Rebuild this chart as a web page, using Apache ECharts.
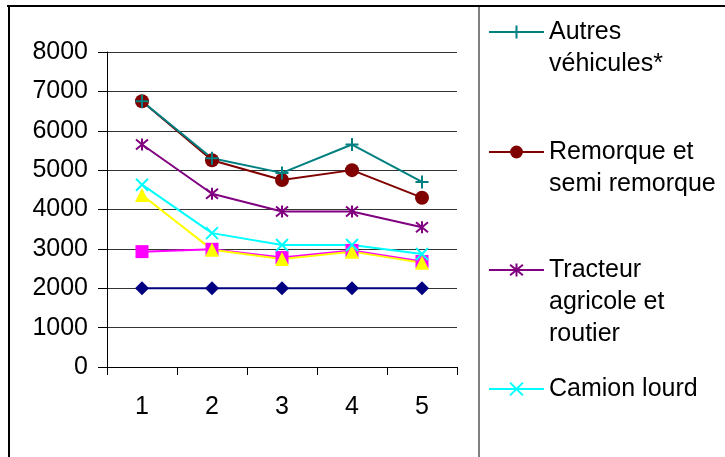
<!DOCTYPE html>
<html>
<head>
<meta charset="utf-8">
<script src="https://cdn.jsdelivr.net/npm/echarts@6/dist/echarts.min.js"></script>
<style>html,body{margin:0;padding:0;background:#fff;}#c{width:725px;height:457px;}</style>
</head>
<body>
<div id="c"></div>
<script>
const categories = ['1', '2', '3', '4', '5'];
const yTicks = [0, 1000, 2000, 3000, 4000, 5000, 6000, 7000, 8000];
const autresVehicules = [6750, 5300, 4930, 5650, 4700];
const remorque = [6750, 5250, 4750, 5000, 4300];
const tracteur = [5650, 4400, 3950, 3950, 3550];
const camionLourd = [4630, 3400, 3100, 3100, 2870];
const serieTriangle = [4370, 2980, 2740, 2930, 2650];
const serieCarre = [2930, 2990, 2780, 2960, 2680];
const serieLosange = [2000, 2000, 2000, 2000, 2000];

const FONT = 'Liberation Sans, Arial, sans-serif';
const PLUS = 'path://M6,0L6,12M0,6L12,6';
const STAR = 'path://M6,0L6,12M1,1L11,11M1,11L11,1';
const CROSS = 'path://M0,0L12,12M0,12L12,0';

function mk(name, data, color, symbol, size, stroke) {
  return {
    name: name, type: 'line', data: data, symbol: symbol, symbolSize: size,
    lineStyle: { color: color, width: 2 },
    itemStyle: { color: color, borderColor: color, borderWidth: stroke ? 2 : 0 },
    emphasis: { disabled: true }, animation: false
  };
}

const series = [
  mk('Série 1', serieLosange, '#000080', 'diamond', 14, false),
  mk('Série 2', serieCarre, '#FF00FF', 'rect', 13, false),
  mk('Série 3', serieTriangle, '#FFFF00', 'triangle', 14, false),
  mk('Camion lourd', camionLourd, '#00FFFF', CROSS, 12, true),
  mk('Tracteur agricole et routier', tracteur, '#800080', STAR, 12, true),
  mk('Remorque et semi remorque', remorque, '#800000', 'circle', 14, false),
  mk('Autres véhicules*', autresVehicules, '#008080', PLUS, 13, true)
];

const legendLabels = {
  'Autres véhicules*': ['Autres', 'véhicules*'],
  'Remorque et semi remorque': ['Remorque et', 'semi remorque'],
  'Tracteur agricole et routier': ['Tracteur', 'agricole et', 'routier'],
  'Camion lourd': ['Camion lourd']
};
const legendSymbolY = {
  'Autres véhicules*': 32,
  'Remorque et semi remorque': 152,
  'Tracteur agricole et routier': 270,
  'Camion lourd': 389
};
const LH = 32;
const legends = Object.keys(legendLabels).map(function (name) {
  const lines = legendLabels[name];
  const blanks = lines.length - 1;
  const n = lines.length + blanks;
  return {
    data: [name], left: 488, top: legendSymbolY[name] - n * LH / 2,
    orient: 'vertical', padding: 0, itemWidth: 55, itemHeight: 16, itemGap: 0,
    selectedMode: false,
    textStyle: { fontFamily: FONT, fontSize: 25, lineHeight: LH, color: '#000' },
    formatter: function () { return new Array(blanks + 1).join('\n') + lines.join('\n'); }
  };
});

const chart = echarts.init(document.getElementById('c'), null, { renderer: 'canvas' });
chart.setOption({
  animation: false,
  backgroundColor: '#fff',
  grid: { left: 107, top: 52, width: 350, height: 315, containLabel: false },
  legend: legends,
  xAxis: {
    type: 'category', data: categories, boundaryGap: true,
    axisLine: { lineStyle: { color: '#000', width: 1 } },
    axisTick: { show: true, length: 8, alignWithLabel: false, lineStyle: { color: '#000' } },
    axisLabel: { fontFamily: FONT, fontSize: 25, color: '#000', margin: 28 },
    splitLine: { show: false }
  },
  yAxis: {
    type: 'value', min: yTicks[0], max: yTicks[yTicks.length - 1], interval: 1000,
    axisLine: { show: true, lineStyle: { color: '#000', width: 1 } },
    axisTick: { show: true, length: 9, lineStyle: { color: '#000' } },
    axisLabel: { fontFamily: FONT, fontSize: 25, color: '#000', margin: 19,
      formatter: function (v) { return String(v); } },
    splitLine: { show: true, lineStyle: { color: '#333', width: 1 } }
  },
  series: series,
  graphic: [
    { type: 'line', shape: { x1: 7, y1: 6, x2: 725, y2: 6 }, style: { stroke: '#000', lineWidth: 2 }, z: 100 },
    { type: 'line', shape: { x1: 9, y1: 5, x2: 9, y2: 457 }, style: { stroke: '#000', lineWidth: 2 }, z: 100 },
    { type: 'line', shape: { x1: 479, y1: 7, x2: 479, y2: 457 }, style: { stroke: '#808080', lineWidth: 2 }, z: 100 }
  ]
});
</script>
</body>
</html>
